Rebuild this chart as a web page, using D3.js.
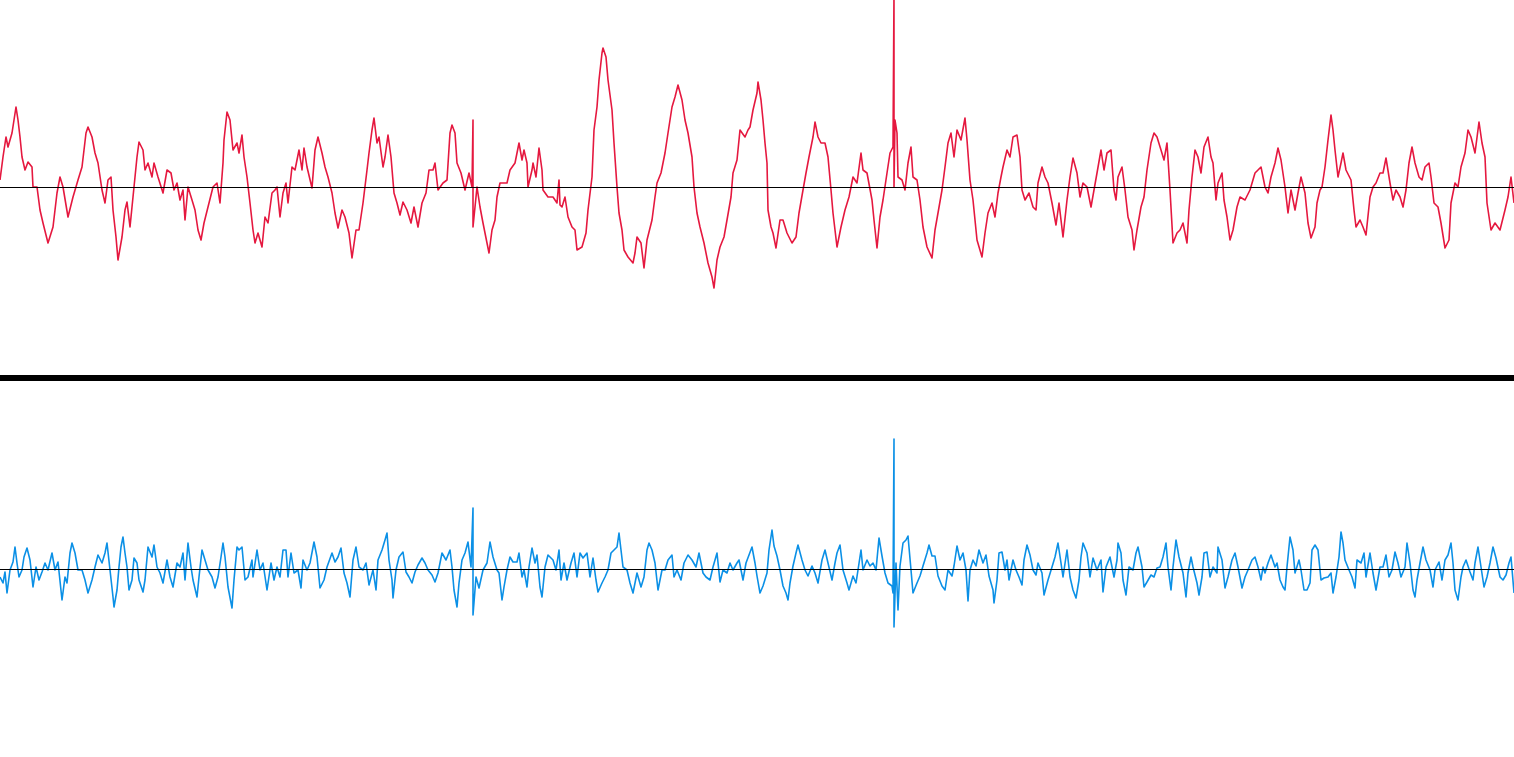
<!DOCTYPE html>
<html>
<head>
<meta charset="utf-8">
<script src="https://cdn.jsdelivr.net/npm/d3@7"></script>
<style>
html,body{margin:0;padding:0;background:#fff;overflow:hidden;}
svg{display:block;}
</style>
</head>
<body>
<svg id="chart" width="1514" height="757"></svg>
<script>
// Sample time (index) and amplitude pairs, top channel
const redSamples = [
[0,7],[3,30],[6,50],[8,40],[12,54],[16,80],[18,67],[20,50],[22,30],[25,17],[28,25],[32,20],[33,0],[37,0],[40,-23],[43,-36],[48,-56],[53,-40],[57,-6],[60,10],[63,0],[68,-30],[73,-10],[78,7],[82,20],[86,54],[88,60],[92,50],[95,34],[98,24],[102,-3],[105,-16],[108,7],[111,10],[113,-23],[116,-50],[118,-73],[122,-50],[125,-23],[127,-15],[130,-40],[133,-10],[137,30],[139,45],[143,37],[145,17],[148,24],[152,10],[154,24],[158,10],[163,-6],[167,17],[171,14],[174,-3],[177,4],[180,-13],[183,-3],[185,-33],[188,0],[192,-13],[195,-23],[198,-43],[201,-53],[204,-36],[208,-20],[213,0],[217,4],[220,-16],[223,24],[224,47],[227,75],[230,67],[233,37],[237,44],[239,34],[242,52],[244,30],[247,10],[250,-16],
[253,-43],[255,-56],[258,-46],[262,-60],[265,-30],[268,-36],[272,-6],[275,-3],[277,0],[280,-30],[283,-6],[286,4],[288,-16],[292,20],[295,17],[299,37],[302,17],[304,39],[307,20],[312,-1],[315,37],[318,50],[322,34],[325,20],[328,10],[332,-6],[335,-26],[338,-41],[342,-23],[345,-30],[349,-46],[352,-71],[356,-43],[359,-43],[363,-16],[367,17],[369,34],[372,57],[374,69],[377,44],[379,50],[383,20],[385,30],[388,52],[391,30],[394,-6],[397,-16],[400,-28],[403,-15],[407,-23],[411,-36],[414,-20],[418,-40],[422,-16],[426,-6],[429,17],[433,17],[435,24],[438,-3],[443,4],[447,7],[450,54],[452,62],[455,54],[457,24],[461,14],[465,-3],[469,14],[472,0],[473,67],[473,-40],[477,0],[480,-20],[483,-36],[487,-56],[489,-66],[492,-43],[495,-33],[497,-10],
[500,4],[507,4],[510,17],[515,24],[519,44],[522,27],[524,37],[527,24],[528,0],[532,17],[533,24],[536,10],[539,39],[542,17],[543,-3],[548,-10],[553,-10],[557,-16],[559,7],[560,-18],[562,-20],[565,-10],[568,-30],[572,-40],[575,-43],[577,-63],[582,-60],[586,-46],[588,-23],[592,10],[594,57],[597,80],[599,107],[602,134],[603,139],[606,130],[608,107],[612,77],[614,44],[617,0],[619,-26],[622,-43],[624,-63],[628,-70],[633,-76],[635,-66],[637,-50],[641,-56],[644,-81],[647,-53],[652,-33],[655,-10],[657,4],[661,14],[665,34],[668,54],[672,80],[675,90],[678,102],[682,87],[685,67],[688,54],[692,30],[694,0],[697,-26],[700,-40],[704,-56],[708,-76],[712,-90],[714,-101],[717,-73],[720,-60],[724,-50],[727,-33],[731,-10],[733,14],[737,27],[740,57],[745,50],[748,57],
[750,60],[753,77],[757,94],[758,105],[761,87],[763,67],[765,44],[767,24],[768,-23],[771,-40],[773,-46],[776,-61],[780,-33],[783,-33],[787,-46],[792,-56],[796,-50],[799,-26],[803,-3],[806,14],[809,30],[813,50],[815,65],[818,50],[821,44],[825,44],[828,30],[831,-3],[833,-26],[837,-60],[841,-40],[845,-23],[849,-10],[853,10],[857,4],[861,34],[863,17],[867,14],[872,-13],[874,-33],[877,-61],[880,-30],[883,-13],[887,14],[890,34],[893,40],[894,195],[894,0],[895,67],[897,54],[898,10],[902,7],[905,-3],[908,24],[911,40],[913,10],[917,7],[920,-13],[923,-40],[927,-60],[932,-71],[935,-43],[938,-26],[942,-3],[945,20],[948,44],[951,54],[954,30],[957,57],[961,47],[965,69],[967,47],[970,7],[973,-13],[977,-53],[982,-70],[985,-46],[988,-26],[992,-16],[995,-30],[998,-6],
[1001,10],[1003,20],[1007,37],[1010,30],[1013,50],[1017,52],[1020,30],[1022,-3],[1025,-13],[1029,-6],[1033,-20],[1036,-23],[1038,4],[1042,20],[1045,10],[1048,4],[1052,-16],[1056,-38],[1059,-16],[1063,-50],[1067,-13],[1070,10],[1073,29],[1077,14],[1080,-10],[1083,4],[1087,0],[1091,-20],[1094,-3],[1097,14],[1101,37],[1104,17],[1107,34],[1111,37],[1114,-3],[1116,-13],[1118,10],[1122,20],[1125,-3],[1128,-30],[1132,-43],[1134,-63],[1137,-43],[1141,-20],[1144,-10],[1147,17],[1151,44],[1154,54],[1157,50],[1161,37],[1164,27],[1167,44],[1170,-3],[1173,-56],[1177,-46],[1180,-43],[1183,-36],[1187,-56],[1189,-23],[1192,10],[1195,37],[1198,30],[1201,14],[1204,40],[1208,50],[1211,30],[1213,24],[1216,-13],[1218,4],[1222,14],[1224,-13],[1227,-30],[1230,-53],[1233,-43],[1237,-20],[1240,-10],[1245,-13],[1250,-3],[1255,14],
[1258,17],[1261,20],[1265,0],[1268,-6],[1271,10],[1275,24],[1278,39],[1281,27],[1285,0],[1288,-26],[1291,-3],[1295,-23],[1298,-6],[1301,10],[1305,-6],[1308,-36],[1311,-51],[1315,-40],[1317,-16],[1320,-3],[1322,0],[1325,20],[1328,47],[1331,72],[1333,57],[1335,37],[1338,10],[1341,24],[1343,34],[1346,17],[1351,7],[1354,-23],[1356,-40],[1360,-33],[1363,-40],[1366,-48],[1370,-10],[1373,0],[1376,4],[1380,14],[1383,14],[1386,29],[1390,4],[1393,-13],[1396,-3],[1400,-10],[1403,-20],[1406,-3],[1409,24],[1412,40],[1415,24],[1419,10],[1422,7],[1425,20],[1429,24],[1431,10],[1434,-16],[1438,-20],[1441,-36],[1445,-61],[1449,-53],[1451,-16],[1455,4],[1458,0],[1461,20],[1465,34],[1468,57],[1471,50],[1475,34],[1479,65],[1482,44],[1485,30],[1487,-16],[1491,-43],[1495,-36],[1500,-43],[1505,-23],[1508,-10],[1511,10],[1514,-16]
];

// Bottom channel
const blueSamples = [
[0,-8],[3,-14],[5,-3],[7,-24],[10,-1],[13,7],[15,22],[17,6],[19,-8],[22,-1],[24,12],[27,21],[30,9],[33,-18],[36,2],[39,-11],[42,-3],[45,6],[48,-1],[52,16],[55,-1],[58,7],[62,-31],[65,-8],[67,-14],[70,16],[72,26],[75,16],[78,-1],[82,-1],[85,-11],[88,-24],[92,-11],[95,2],[98,14],[102,6],[105,16],[107,26],[110,-1],[113,-28],[114,-38],[117,-21],[119,2],[121,22],[123,32],[125,16],[127,2],[129,-21],[132,-11],[134,11],[137,6],[139,-11],[143,-23],[145,-11],[148,22],[152,12],[154,24],[157,2],[160,-4],[163,-14],[167,9],[170,-8],[173,-18],[177,6],[180,2],[183,16],[185,-11],[188,26],[191,2],[193,-11],[197,-28],[199,-8],[202,19],[205,9],[208,-1],[212,-8],[215,-19],[218,-8],[221,12],[223,26],[225,12],[228,-18],[232,-39],[234,-11],[237,22],[239,19],[242,22],[245,-11],[248,-8],[252,9],
[253,-8],[257,19],[260,-1],[263,6],[267,-21],[271,6],[274,-11],[277,2],[280,-8],[283,19],[286,19],[288,-8],[291,16],[294,-4],[298,-1],[301,-19],[303,9],[307,-1],[310,6],[314,27],[317,12],[320,-19],[324,-11],[327,2],[332,16],[335,7],[338,12],[341,21],[344,-4],[347,-14],[350,-28],[353,9],[356,22],[359,2],[363,-1],[366,6],[369,-16],[373,-1],[376,-21],[378,9],[382,19],[385,29],[387,36],[389,9],[392,-11],[393,-29],[396,-1],[399,12],[403,17],[406,-3],[409,-8],[412,-14],[415,-3],[418,4],[422,11],[425,6],[428,-1],[432,-6],[435,-13],[438,-4],[442,16],[446,9],[450,19],[452,2],[454,-21],[457,-38],[459,-14],[462,9],[465,16],[468,27],[471,2],[473,61],[473,-46],[476,-8],[479,-19],[483,-1],[487,6],[490,27],[493,12],[497,-1],[499,-4],
[502,-31],[504,-18],[507,-1],[510,12],[513,7],[517,7],[519,16],[522,-8],[524,-1],[527,-18],[529,2],[532,21],[535,6],[537,14],[540,-18],[542,-28],[545,2],[548,14],[553,9],[556,-1],[559,19],[561,-11],[564,6],[567,-11],[571,6],[574,16],[577,-8],[580,16],[583,11],[587,16],[590,-8],[593,11],[596,-11],[598,-23],[602,-14],[605,-8],[608,-1],[611,16],[614,19],[617,22],[619,36],[621,19],[623,2],[627,-1],[630,-14],[633,-24],[635,-14],[637,-4],[641,-18],[644,-8],[647,19],[649,26],[652,19],[655,6],[658,-21],[662,-1],[665,-1],[668,9],[672,14],[674,-8],[677,-1],[681,-11],[684,6],[688,14],[692,9],[696,2],[699,16],[703,-4],[706,-8],[710,-11],[713,2],[717,16],[720,-13],[723,-1],[727,-4],[730,6],[733,-1],[737,6],[739,9],[743,-11],[746,6],[749,14],
[752,22],[755,6],[757,-7],[760,-24],[763,-17],[767,-4],[769,19],[772,39],[774,23],[777,13],[780,-1],[783,-17],[786,-24],[788,-31],[790,-14],[793,3],[796,16],[798,24],[802,9],[805,-1],[808,-7],[812,3],[815,-4],[818,-14],[822,9],[825,19],[828,6],[832,-11],[835,6],[837,16],[840,24],[843,-1],[847,-14],[849,-21],[853,-7],[856,-14],[858,-1],[861,19],[863,-1],[867,9],[870,3],[873,6],[876,-1],[879,31],[882,13],[885,-4],[888,-14],[892,-17],[893,-24],[894,130],[894,-58],[896,6],[898,-41],[900,3],[903,26],[906,29],[908,33],[911,-1],[913,-24],[917,-14],[920,-7],[923,3],[927,16],[929,24],[932,13],[935,13],[938,-7],[942,-17],[945,-21],[948,-1],[952,-7],[954,3],[957,23],[960,9],[963,16],[966,-1],[968,-32],[970,-1],[973,9],[976,3],[979,19],[983,6],[986,14],[989,-7],[993,-21],[994,-34],[997,-11],[999,16],
[1002,17],[1005,-1],[1007,9],[1009,-11],[1013,9],[1016,-1],[1019,-8],[1022,-16],[1024,9],[1027,24],[1030,14],[1033,-1],[1036,-6],[1038,6],[1042,-4],[1044,-26],[1048,-11],[1052,2],[1055,12],[1058,26],[1061,6],[1063,-8],[1067,19],[1070,-8],[1073,-21],[1076,-29],[1079,-11],[1081,12],[1083,26],[1087,16],[1090,-8],[1093,11],[1097,-1],[1101,9],[1103,-23],[1106,2],[1110,12],[1114,-8],[1117,9],[1118,26],[1121,16],[1123,-11],[1126,-26],[1129,2],[1133,-1],[1136,16],[1138,22],[1142,2],[1144,-18],[1147,-13],[1151,-6],[1154,-8],[1157,1],[1160,2],[1163,12],[1166,26],[1168,2],[1171,-21],[1173,2],[1176,29],[1179,12],[1183,-4],[1186,-28],[1188,-4],[1191,12],[1193,2],[1197,-14],[1199,-26],[1202,-8],[1204,16],[1207,17],[1210,-8],[1213,2],[1217,-4],[1218,22],[1222,9],[1225,-19],[1228,-8],[1232,9],[1235,16],[1238,2],[1242,-19],[1245,-8],[1248,-1],[1252,9],[1255,12],
[1258,2],[1261,-11],[1263,2],[1265,-4],[1268,6],[1271,14],[1275,2],[1277,6],[1280,-11],[1283,-18],[1285,-21],[1287,2],[1290,32],[1293,19],[1295,-4],[1299,9],[1301,-1],[1304,-21],[1307,-21],[1310,-14],[1312,19],[1315,24],[1318,19],[1321,-11],[1324,-9],[1328,-8],[1331,-4],[1333,-24],[1336,-8],[1339,12],[1341,37],[1343,26],[1345,9],[1349,-1],[1352,-8],[1355,-19],[1357,9],[1361,6],[1364,16],[1366,-8],[1370,16],[1373,-4],[1376,-21],[1380,2],[1383,2],[1386,14],[1389,-8],[1392,-1],[1395,17],[1398,6],[1401,-8],[1405,2],[1407,26],[1410,6],[1413,-21],[1415,-28],[1417,-11],[1420,6],[1423,22],[1426,9],[1430,-1],[1433,-18],[1435,-1],[1439,7],[1442,-11],[1445,9],[1448,14],[1451,26],[1453,6],[1455,-21],[1458,-31],[1461,-8],[1463,2],[1466,9],[1470,-3],[1473,-11],[1475,6],[1478,22],[1481,2],[1484,-18],[1487,-8],[1490,6],[1493,22],[1496,11],[1500,-8],[1503,-11],[1506,-6],[1509,6],[1511,12],[1514,-24]
];

const timeDomain = [0, 1514];
const ampDomain = [-188, 188];
const redColor = "#e5183f";
const blueColor = "#0b90e6";

const W = 1514, H = 757;
const svg = d3.select("#chart");

const x = d3.scaleLinear().domain(timeDomain).range([0, W]);
const yTop = d3.scaleLinear().domain(ampDomain).range([375, -1]);
const yBot = d3.scaleLinear().domain(ampDomain).range([757, 381]);

function panel(samples, y, color) {
  const g = svg.append("g");
  const line = d3.line().x(d => x(d[0])).y(d => y(d[1]));
  g.append("path")
    .datum(samples)
    .attr("d", line)
    .attr("fill", "none")
    .attr("stroke", color)
    .attr("stroke-width", 1.6)
    .attr("stroke-linejoin", "round");
  g.append("line")
    .attr("x1", x(timeDomain[0])).attr("x2", x(timeDomain[1]))
    .attr("y1", Math.round(y(0)) + 0.5).attr("y2", Math.round(y(0)) + 0.5)
    .attr("stroke", "#000").attr("stroke-width", 1);
}

panel(redSamples, yTop, redColor);
panel(blueSamples, yBot, blueColor);

// divider between the two channels
svg.append("rect")
  .attr("x", 0).attr("y", 375).attr("width", W).attr("height", 6)
  .attr("fill", "#000");
</script>
</body>
</html>
